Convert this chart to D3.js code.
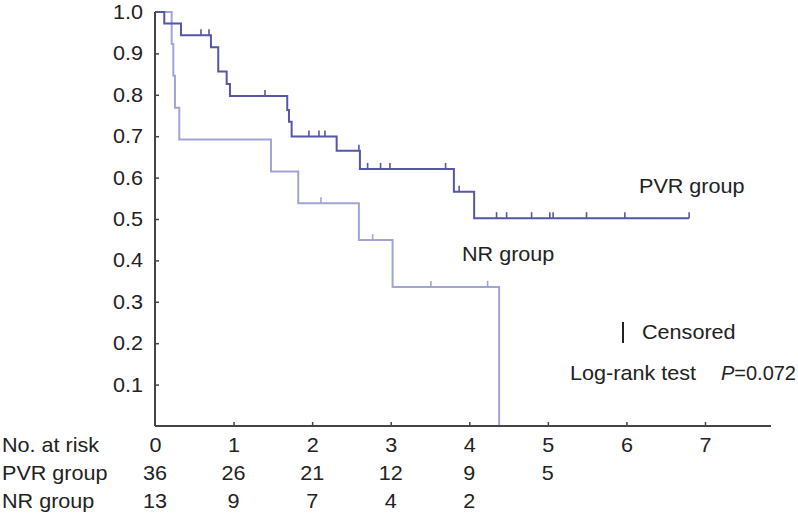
<!DOCTYPE html>
<html>
<head>
<meta charset="utf-8">
<script src="https://cdn.jsdelivr.net/npm/d3@7"></script>
<style>
  html, body { margin: 0; padding: 0; background: #fff; }
  svg { display: block; }
  text { font-family: "Liberation Sans", Arial, Helvetica, sans-serif; fill: #222; }
</style>
</head>
<body>
<svg id="chart" width="798" height="518"></svg>
<script>
// ---- data ----
const years = [0, 1, 2, 3, 4, 5, 6, 7];
const yTicks = [0.1, 0.2, 0.3, 0.4, 0.5, 0.6, 0.7, 0.8, 0.9, 1.0];

const pvrEventTimes = [0.118, 0.331, 0.712, 0.805, 0.912, 0.954, 1.683, 1.705, 1.739, 2.312, 2.608, 3.804, 4.062];
const pvrSurvival   = [0.972, 0.944, 0.915, 0.856, 0.826, 0.797, 0.763, 0.735, 0.699, 0.665, 0.621, 0.566, 0.502];
const pvrCensorTimes = [0.585, 0.687, 1.40, 1.959, 2.087, 2.163, 2.595, 2.706, 2.871, 2.990, 3.698, 3.871,
                        4.347, 4.475, 4.793, 5.025, 5.067, 5.492, 5.980, 6.798];
const pvrEnd = 6.798;

const nrEventTimes = [0.212, 0.233, 0.254, 0.309, 1.476, 1.823, 2.595, 3.024, 4.380];
const nrSurvival   = [0.923, 0.846, 0.769, 0.692, 0.615, 0.538, 0.449, 0.336, 0.0];
const nrCensorTimes = [2.112, 2.770, 3.511, 4.233];
const nrEnd = 4.380;

const riskRowLabels = ["No. at risk", "PVR group", "NR group"];
const pvrAtRisk = [36, 26, 21, 12, 9, 5];
const nrAtRisk  = [13, 9, 7, 4, 2];

// ---- layout ----
const svg = d3.select("#chart");
const FS = 20, SX = 1.08;
const x = d3.scaleLinear().domain([0, 7.84]).range([155, 771]);
const y = d3.scaleLinear().domain([0, 1]).range([426, 12]);
const pvrColor = "#5357a6", nrColor = "#a2a4d8", axisColor = "#444";

function stepPoints(times, surv, end) {
  const pts = [[0, 1]];
  let prev = 1;
  times.forEach((t, i) => { pts.push([t, prev]); pts.push([t, surv[i]]); prev = surv[i]; });
  if (end > times[times.length - 1]) pts.push([end, prev]);
  return pts;
}
function survAt(times, surv, t) {
  let s = 1;
  times.forEach((et, i) => { if (et <= t) s = surv[i]; });
  return s;
}
const line = d3.line().x(d => x(d[0])).y(d => y(d[1]));

function drawCurve(times, surv, end, censors, color, w) {
  svg.append("path").attr("d", line(stepPoints(times, surv, end)))
    .attr("fill", "none").attr("stroke", color).attr("stroke-width", w);
  svg.append("g").selectAll("line").data(censors).join("line")
    .attr("x1", d => x(d)).attr("x2", d => x(d))
    .attr("y1", d => y(survAt(times, surv, d)))
    .attr("y2", d => y(survAt(times, surv, d)) - 6)
    .attr("stroke", color).attr("stroke-width", 1.6);
}
drawCurve(nrEventTimes, nrSurvival, nrEnd, nrCensorTimes, nrColor, 2);
drawCurve(pvrEventTimes, pvrSurvival, pvrEnd, pvrCensorTimes, pvrColor, 2);

// ---- axes ----
const yAxis = svg.append("g").attr("transform", `translate(${x(0)},0)`)
  .call(d3.axisLeft(y).tickValues(yTicks).tickSize(-4).tickSizeOuter(0).tickPadding(11).tickFormat(d3.format(".1f")));
const xAxis = svg.append("g").attr("transform", `translate(0,${y(0)})`)
  .call(d3.axisBottom(x).tickValues(years).tickSize(-4).tickSizeOuter(0).tickPadding(12).tickFormat(d3.format("d")));
[yAxis, xAxis].forEach(a => {
  a.select(".domain").attr("stroke", axisColor).attr("stroke-width", 2);
  a.selectAll(".tick line").attr("stroke", axisColor).attr("stroke-width", 1.5);
  a.selectAll(".tick text").attr("font-size", FS).attr("fill", "#222")
    .attr("font-family", "'Liberation Sans', Arial, sans-serif")
    .attr("transform", `scale(${SX},1)`);
});
yAxis.select(".tick:last-of-type line").remove();
xAxis.select(".tick:first-of-type line").remove();
xAxis.select(".domain").attr("d", `M${x(0)},0H${x(7.84)}`);
yAxis.select(".domain").attr("d", `M0,${y(0)}V${y(1)}`);

// ---- text helper ----
function label(txt, px, py, anchor) {
  return svg.append("text")
    .attr("transform", `translate(${px},${py}) scale(${SX},1)`)
    .attr("text-anchor", anchor || "start")
    .attr("font-size", FS).text(txt);
}

// ---- risk table ----
const rowY = [452, 480, 508];
riskRowLabels.forEach((t, i) => label(t, 2, rowY[i]));
pvrAtRisk.forEach((v, i) => label(v, x(years[i]), rowY[1], "middle"));
nrAtRisk.forEach((v, i) => label(v, x(years[i]), rowY[2], "middle"));

// ---- curve labels ----
label("PVR group", 639, 193);
label("NR group", 462, 261);

// ---- legend / test ----
svg.append("line").attr("x1", 623).attr("x2", 623).attr("y1", 322).attr("y2", 343)
  .attr("stroke", "#222").attr("stroke-width", 2);
label("Censored", 642, 339);
label("Log-rank test", 570, 380);
const pt = svg.append("text")
  .attr("transform", `translate(796,380) scale(1,1)`)
  .attr("text-anchor", "end")
  .attr("font-size", FS);
pt.append("tspan").attr("font-style", "italic").text("P");
pt.append("tspan").text("=0.072");
</script>
</body>
</html>
